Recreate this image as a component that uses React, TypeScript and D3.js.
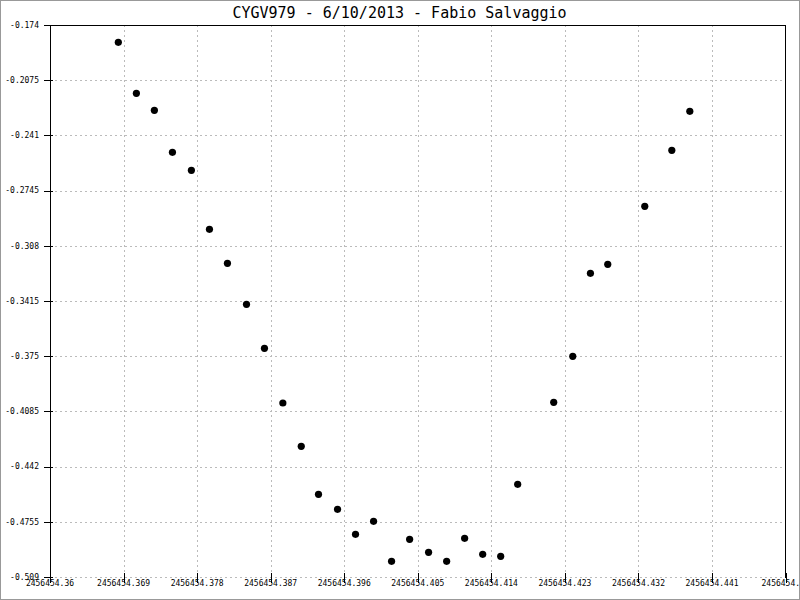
import React from "react";
import * as d3 from "d3";

const title = "CYGV979 - 6/10/2013 - Fabio Salvaggio";

const jd = [
  2456454.36836, 2456454.37057, 2456454.37277, 2456454.37498, 2456454.3773,
  2456454.37951, 2456454.38171, 2456454.38404, 2456454.38624, 2456454.38849,
  2456454.39074, 2456454.39285, 2456454.39518, 2456454.39738, 2456454.39959,
  2456454.40179, 2456454.404, 2456454.40632, 2456454.40853, 2456454.41073,
  2456454.41294, 2456454.41514, 2456454.41722, 2456454.42163, 2456454.42396,
  2456454.42612, 2456454.42824, 2456454.43277, 2456454.43608, 2456454.43828,
];

const mag = [
  -0.1845, -0.21545, -0.22577, -0.25126, -0.26218,
  -0.29798, -0.31862, -0.3435, -0.3702, -0.4034,
  -0.42968, -0.45881, -0.46791, -0.48308, -0.4752,
  -0.49947, -0.48612, -0.49401, -0.49947, -0.48551,
  -0.49522, -0.49644, -0.45274, -0.40298, -0.37506,
  -0.32469, -0.31923, -0.28403, -0.25004, -0.22637,
];

const xTicks = [
  2456454.36, 2456454.369, 2456454.378, 2456454.387, 2456454.396, 2456454.405,
  2456454.414, 2456454.423, 2456454.432, 2456454.441, 2456454.45,
];
const xTickLabels = [
  "2456454.36", "2456454.369", "2456454.378", "2456454.387", "2456454.396", "2456454.405",
  "2456454.414", "2456454.423", "2456454.432", "2456454.441", "2456454.45",
];
const yTicks = [-0.174, -0.2075, -0.241, -0.2745, -0.308, -0.3415, -0.375, -0.4085, -0.442, -0.4755, -0.509];
const yTickLabels = ["-0.174", "-0.2075", "-0.241", "-0.2745", "-0.308", "-0.3415", "-0.375", "-0.4085", "-0.442", "-0.4755", "-0.509"];

const W = 800;
const H = 600;
const L = 50;
const R = 785.6;
const T = 25;
const B = 577;

export default function App() {
  const x = d3.scaleLinear().domain([2456454.36, 2456454.45]).range([L, R]);
  const y = d3.scaleLinear().domain([-0.174, -0.509]).range([T, B]);
  const font = "'DejaVu Sans Mono', monospace";
  return (
    <svg
      width={W}
      height={H}
      style={{ position: "absolute", left: 0, top: 0, background: "#fff" }}
    >
      <rect x={0} y={0} width={W} height={H} fill="#fff" />
      {/* grid */}
      {xTicks.slice(1, -1).map((t, i) => (
        <line key={"gx" + i} x1={Math.round(x(t)) + 0.5} x2={Math.round(x(t)) + 0.5} y1={T} y2={B}
          stroke="#bbbbbb" strokeDasharray="2,3" />
      ))}
      {yTicks.slice(1).map((t, i) => (
        <line key={"gy" + i} x1={L} x2={R} y1={Math.round(y(t)) + 0.5} y2={Math.round(y(t)) + 0.5}
          stroke="#bbbbbb" strokeDasharray="2,3" />
      ))}
      {/* axes frame (top, left, right solid) */}
      <line x1={L + 0.5} x2={L + 0.5} y1={T} y2={B + 1} stroke="#000" />
      <line x1={Math.round(R) - 0.5} x2={Math.round(R) - 0.5} y1={T} y2={B + 1} stroke="#000" />
      <line x1={L} x2={R} y1={T + 0.5} y2={T + 0.5} stroke="#000" />
      {/* y ticks */}
      {yTicks.map((t, i) => (
        <g key={"yt" + i}>
          <line x1={L - 6} x2={L + 3} y1={Math.round(y(t)) + 0.5} y2={Math.round(y(t)) + 0.5} stroke="#000" />
          <text x={L - 11} y={y(t)} dy="0.35em" textAnchor="end" fontFamily={font} fontSize={8} fill="#000">
            {yTickLabels[i]}
          </text>
        </g>
      ))}
      {/* x ticks */}
      {xTicks.map((t, i) => (
        <g key={"xt" + i}>
          <line x1={Math.round(x(t)) + 0.5} x2={Math.round(x(t)) + 0.5} y1={B - 4} y2={B + 6} stroke="#000" />
          <text x={x(t)} y={B + 9} textAnchor="middle" fontFamily={font} fontSize={8} fill="#000">
            {xTickLabels[i]}
          </text>
        </g>
      ))}
      {/* points */}
      {jd.map((d, i) => (
        <circle key={"p" + i} cx={x(d)} cy={y(mag[i])} r={3.6} fill="#000" />
      ))}
      {/* title */}
      <text x={399.5} y={18.3} textAnchor="middle" fontFamily={font} fontSize={15} fill="#000">
        {title}
      </text>
      {/* border */}
      <rect x={0.5} y={0.5} width={W - 1} height={H - 1} fill="none" stroke="#999" />
    </svg>
  );
}
